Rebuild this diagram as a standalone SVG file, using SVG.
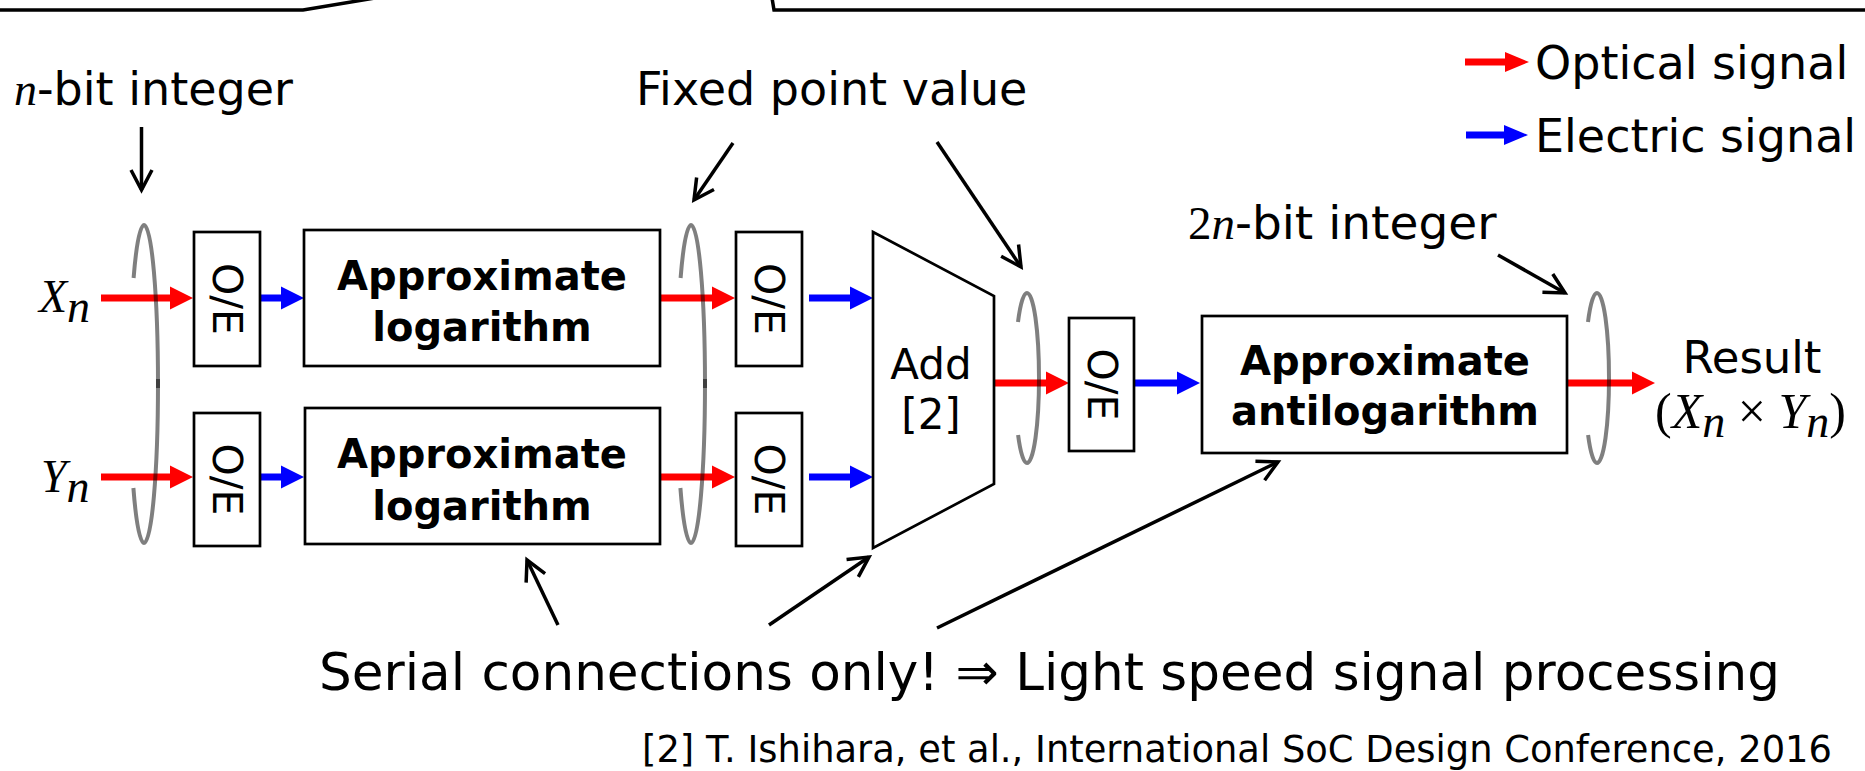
<svg xmlns="http://www.w3.org/2000/svg" width="1865" height="771" viewBox="0 0 1865 771">
<defs>
<style>
.bg{fill:#fff}
.box{fill:#fff;stroke:#000;stroke-width:2.7}
.ring{fill:none;stroke:#000;stroke-opacity:.5;stroke-width:4}
.opt{fill:#f00}
.ele{fill:#00f}
.call{fill:none;stroke:#000;stroke-width:3.5;marker-end:url(#open)}
.frame{fill:none;stroke:#000;stroke-width:3.5}
.t{font-family:"DejaVu Sans","Noto Sans",sans-serif;fill:#000}
.b{font-weight:bold}
.m{font-family:"Liberation Serif","DejaVu Serif",serif;font-style:italic}
.s{font-family:"Liberation Serif","DejaVu Serif",serif}
.oe{font-family:"DejaVu Sans","Noto Sans",sans-serif;font-size:41px;text-anchor:middle;dominant-baseline:central}
</style>
<marker id="open" viewBox="-26 -14 30 28" markerWidth="30" markerHeight="28" refX="0" refY="0" markerUnits="userSpaceOnUse" orient="auto">
<path d="M-20,-10.5 L0,0 L-20,10.5" fill="none" stroke="#000" stroke-width="3.5"/>
</marker>
</defs>
<rect class="bg" x="0" y="0" width="1865" height="771"/>

<g id="frames">
<polyline class="frame" points="-2,10 303,10 375,-2"/>
<polyline class="frame" points="772,-2 774,10 1870,10"/>
</g>

<g id="connectors">
<path class="opt" d="M101,294.5 H170 V286.5 L193,298 L170,309.5 V301.5 H101 Z"/>
<path class="opt" d="M101,473.5 H170 V465.5 L193,477 L170,488.5 V480.5 H101 Z"/>
<path class="ele" d="M260,294.5 H281 V286.5 L304,298 L281,309.5 V301.5 H260 Z"/>
<path class="ele" d="M260,473.5 H281 V465.5 L304,477 L281,488.5 V480.5 H260 Z"/>
<path class="opt" d="M660,294.5 H712 V286.5 L735,298 L712,309.5 V301.5 H660 Z"/>
<path class="opt" d="M660,473.5 H712 V465.5 L735,477 L712,488.5 V480.5 H660 Z"/>
<path class="ele" d="M809,294.5 H850 V286.5 L873,298 L850,309.5 V301.5 H809 Z"/>
<path class="ele" d="M809,473.5 H850 V465.5 L873,477 L850,488.5 V480.5 H809 Z"/>
<path class="opt" d="M994,379.5 H1046 V371.5 L1069,383 L1046,394.5 V386.5 H994 Z"/>
<path class="ele" d="M1135,379.5 H1177 V371.5 L1200,383 L1177,394.5 V386.5 H1135 Z"/>
<path class="opt" d="M1567,379.5 H1632 V371.5 L1655,383 L1632,394.5 V386.5 H1567 Z"/>
</g>

<g id="legend">
<path class="opt" d="M1465,58.5 H1505 V52 L1529,62 L1505,72 V65.5 H1465 Z"/>
<path class="ele" d="M1466,131.5 H1504 V125 L1528,135 L1504,145 V138.5 H1466 Z"/>
<text class="t" font-size="46" x="1535" y="79">Optical signal</text>
<text class="t" font-size="46" x="1535" y="152">Electric signal</text>
</g>

<g id="oe1">
<rect class="box" x="194" y="232" width="66" height="134"/>
<text class="oe" transform="translate(227,299) rotate(90)">O/E</text>
</g>
<g id="oe2">
<rect class="box" x="194" y="413" width="66" height="133"/>
<text class="oe" transform="translate(227,479.5) rotate(90)">O/E</text>
</g>
<g id="log1">
<rect class="box" x="304" y="230" width="356" height="136"/>
<text class="t b" font-size="40" text-anchor="middle" x="482" y="290">Approximate</text>
<text class="t b" font-size="40" text-anchor="middle" x="482" y="341">logarithm</text>
</g>
<g id="log2">
<rect class="box" x="305" y="408" width="355" height="136"/>
<text class="t b" font-size="40" text-anchor="middle" x="482" y="468">Approximate</text>
<text class="t b" font-size="40" text-anchor="middle" x="482" y="520">logarithm</text>
</g>
<g id="oe3">
<rect class="box" x="736" y="232" width="66" height="134"/>
<text class="oe" transform="translate(769,299) rotate(90)">O/E</text>
</g>
<g id="oe4">
<rect class="box" x="736" y="413" width="66" height="133"/>
<text class="oe" transform="translate(769,479.5) rotate(90)">O/E</text>
</g>
<g id="adder">
<path class="box" d="M873,232 L994,296 L994,484 L873,548 Z"/>
<text class="t" font-size="42" text-anchor="middle" x="931" y="379">Add</text>
<text class="t" font-size="42" text-anchor="middle" x="931" y="429">[2]</text>
</g>
<g id="oe5">
<rect class="box" x="1069" y="318" width="65" height="133"/>
<text class="oe" transform="translate(1101.5,384.5) rotate(90)">O/E</text>
</g>
<g id="antilog">
<rect class="box" x="1202" y="316" width="365" height="137"/>
<text class="t b" font-size="40" text-anchor="middle" x="1385" y="375">Approximate</text>
<text class="t b" font-size="40" text-anchor="middle" x="1385" y="425">antilogarithm</text>
</g>

<g id="rings">
<path class="ring" d="M133.6,278 A14,159 0 0 1 144,225 A14,159 0 0 1 144,543 A14,159 0 0 1 133.4,488"/>
<path class="ring" d="M158,379 V388"/>
<path class="ring" d="M680.6,278 A14,159 0 0 1 691,225 A14,159 0 0 1 691,543 A14,159 0 0 1 680.4,488"/>
<path class="ring" d="M705,379 V388"/>
<path class="ring" d="M1018,322 A12,85 0 0 1 1027,293 A12,85 0 0 1 1027,463 A12,85 0 0 1 1018.1,435"/>
<path class="ring" d="M1588,322 A12,85 0 0 1 1597,293 A12,85 0 0 1 1597,463 A12,85 0 0 1 1588.1,435"/>
</g>

<g id="labels">
<text class="t" font-size="46" x="14" y="105"><tspan class="m">n</tspan>-bit integer</text>
<text class="t" font-size="46" x="636" y="105">Fixed point value</text>
<text class="t" font-size="47" x="1188" y="239"><tspan class="s">2</tspan><tspan class="m">n</tspan>-bit integer</text>
<text class="m" font-size="46" x="39" y="312">X<tspan font-size="46" dy="10">n</tspan></text>
<text class="m" font-size="46" x="41" y="492">Y<tspan font-size="46" dy="10">n</tspan></text>
<text class="t" font-size="45" text-anchor="middle" x="1752" y="373">Result</text>
<text class="s" font-size="50" x="1655" y="428">(<tspan class="m">X</tspan><tspan class="m" font-size="46" dy="9">n</tspan><tspan dy="-9"> × </tspan><tspan class="m">Y</tspan><tspan class="m" font-size="46" dy="9">n</tspan><tspan dy="-9">)</tspan></text>
<text class="t" font-size="52" x="319" y="690" textLength="1461" lengthAdjust="spacingAndGlyphs">Serial connections only! ⇒ Light speed signal processing</text>
<text class="t" font-size="37" x="642" y="762" textLength="1190" lengthAdjust="spacingAndGlyphs">[2] T. Ishihara, et al., International SoC Design Conference, 2016</text>
</g>

<g id="callouts">
<line class="call" x1="141.5" y1="127" x2="141.5" y2="190"/>
<line class="call" x1="733" y1="143" x2="694" y2="200"/>
<line class="call" x1="937" y1="142" x2="1021" y2="267"/>
<line class="call" x1="1498" y1="255" x2="1565" y2="293"/>
<line class="call" x1="558" y1="625" x2="527" y2="560"/>
<line class="call" x1="769" y1="625" x2="869" y2="557"/>
<line class="call" x1="937" y1="628" x2="1278" y2="462"/>
</g>
</svg>
